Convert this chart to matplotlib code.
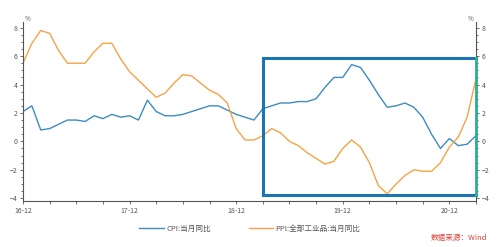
import matplotlib
matplotlib.use("Agg")
import matplotlib.pyplot as plt

plt.rcParams['font.family'] = ['Noto Sans CJK SC', 'DejaVu Sans']

months = ["16-12",
          "17-01","17-02","17-03","17-04","17-05","17-06","17-07","17-08","17-09","17-10","17-11","17-12",
          "18-01","18-02","18-03","18-04","18-05","18-06","18-07","18-08","18-09","18-10","18-11","18-12",
          "19-01","19-02","19-03","19-04","19-05","19-06","19-07","19-08","19-09","19-10","19-11","19-12",
          "20-01","20-02","20-03","20-04","20-05","20-06","20-07","20-08","20-09","20-10","20-11","20-12",
          "21-01","21-02","21-03"]
cpi = [2.1,
       2.5,0.8,0.9,1.2,1.5,1.5,1.4,1.8,1.6,1.9,1.7,1.8,
       1.5,2.9,2.1,1.8,1.8,1.9,2.1,2.3,2.5,2.5,2.2,1.9,
       1.7,1.5,2.3,2.5,2.7,2.7,2.8,2.8,3.0,3.8,4.5,4.5,
       5.4,5.2,4.3,3.3,2.4,2.5,2.7,2.4,1.7,0.5,-0.5,0.2,
       -0.3,-0.2,0.4]
ppi = [5.5,
       6.9,7.8,7.6,6.4,5.5,5.5,5.5,6.3,6.9,6.9,5.8,4.9,
       4.3,3.7,3.1,3.4,4.1,4.7,4.6,4.1,3.6,3.3,2.7,0.9,
       0.1,0.1,0.4,0.9,0.6,0.0,-0.3,-0.8,-1.2,-1.6,-1.4,-0.5,
       0.1,-0.4,-1.5,-3.1,-3.7,-3.0,-2.4,-2.0,-2.1,-2.1,-1.5,-0.4,
       0.3,1.7,4.4]
yticks = [-4, -2, 0, 2, 4, 6, 8]
xtick_labels = ["16-12", "17-12", "18-12", "19-12", "20-12"]
series_names = ["CPI:当月同比", "PPI:全部工业品:当月同比"]
box_x = ["19-03", "21-03"]
box_y = [-3.8, 5.9]

x = list(range(len(months)))
fig = plt.figure(figsize=(5, 2.47), dpi=100)
ax = fig.add_axes([0.046, 0.186, 0.906, 0.725])
gray = "#555555"
ax.plot(x, cpi, color="#3d8cc0", lw=1.0, label=series_names[0])
ax.plot(x, ppi, color="#f5a345", lw=1.0, label=series_names[1])
ax.set_xlim(0, len(months) - 1)
ax.set_ylim(-4.2, 8.4)
ax.set_yticks(yticks)
ax.set_yticks([v + 0.5 * k for v in yticks[:-1] for k in (1, 2, 3)], minor=True)
ax.set_xticks([months.index(m) for m in xtick_labels])
ax.set_xticklabels(xtick_labels)
ax.set_xticks([i for i in x if i % 3 == 0], minor=True)
ax.spines["top"].set_visible(False)
for s in ["left", "bottom", "right"]:
    ax.spines[s].set_color(gray)
    ax.spines[s].set_linewidth(0.8)
ax.tick_params(axis="both", which="both", colors=gray, labelsize=5, length=2.5, width=0.6, pad=1.5)
ax.tick_params(axis="y", which="minor", length=1.5)
ax.tick_params(axis="y", right=True, labelright=True, which="both")
ax.text(0.25, 8.3, "%", fontsize=4.5, color=gray, va="bottom")
ax.text(len(months) - 1.25, 8.3, "%", fontsize=4.5, color=gray, va="bottom", ha="right")

bx0 = months.index(box_x[0]); bx1 = months.index(box_x[1])
blue = "#1b75b5"
ax.plot([bx1, bx0, bx0, bx1], [box_y[1], box_y[1], box_y[0], box_y[0]],
        color=blue, lw=2.2, zorder=5, clip_on=False, solid_capstyle="projecting",
        solid_joinstyle="miter")
ax.plot([bx1, bx1], [box_y[0], box_y[1]], color="#2fae8e", lw=2.0, zorder=6, clip_on=False)

fig.legend(loc="lower center", bbox_to_anchor=(0.5, 0.03), ncol=2, frameon=False,
           fontsize=5.5, handlelength=3.2, columnspacing=5, handletextpad=0.3,
           labelcolor=gray)
fig.text(0.975, 0.02, "数据来源：Wind", color="#e0403a", fontsize=5.5, style="italic",
         ha="right", va="bottom")
fig.savefig("out.png", dpi=100)
